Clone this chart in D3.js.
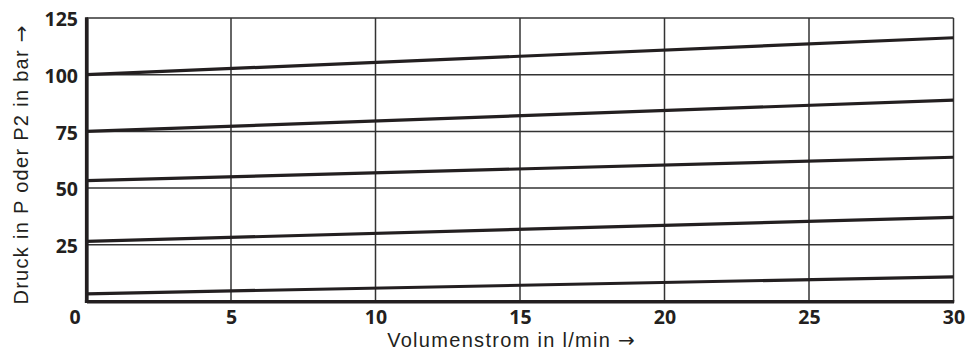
<!DOCTYPE html>
<html>
<head>
<meta charset="utf-8">
<script src="https://cdn.jsdelivr.net/npm/d3@7/dist/d3.min.js"></script>
<style>
  html, body { margin: 0; padding: 0; background: #fff; }
  svg { display: block; }
  .tick text { font-family: "Open Sans", "Liberation Sans", sans-serif; font-weight: 700; font-size: 19.5px; fill: #231f20; }
  .title { font-family: "Liberation Sans", Arial, sans-serif; font-size: 20px; letter-spacing: 1.3px; fill: #231f20; }
  .arrow { font-family: "DejaVu Sans", sans-serif; letter-spacing: 0; }
</style>
</head>
<body>
<svg id="chart" width="969" height="358"></svg>
<script>
// Flow rate (l/min) at which each pressure curve is sampled
const flowRate = [0, 30];
// Pressure curves in bar, one per setting
const curve1 = [3.4, 10.9];
const curve2 = [26.5, 37.1];
const curve3 = [53.3, 63.6];
const curve4 = [75, 88.8];
const curve5 = [100, 116.3];
const curves = [curve1, curve2, curve3, curve4, curve5];

const xTicks = [0, 5, 10, 15, 20, 25, 30];
const yTicks = [25, 50, 75, 100, 125];

const xTitle = "Volumenstrom in l/min";
const yTitle = "Druck in P oder P2 in bar";
const arrow = "\u2192";

const svg = d3.select("#chart");
const plotLeft = 86.5, plotRight = 953.5, plotTop = 18, plotBottom = 301.5;

const x = d3.scaleLinear().domain([0, 30]).range([plotLeft, plotRight]);
const y = d3.scaleLinear().domain([0, 125]).range([plotBottom, plotTop]);

const ink = "#231f20";

// grid
const grid = svg.append("g");
grid.selectAll("line.v").data(xTicks.filter(d => d > 0))
  .join("line")
  .attr("x1", d => x(d)).attr("x2", d => x(d))
  .attr("y1", y(125)).attr("y2", y(0))
  .attr("stroke", "#333").attr("stroke-width", 1.5);
grid.selectAll("line.h").data(yTicks)
  .join("line")
  .attr("x1", x(0)).attr("x2", x(30))
  .attr("y1", d => y(d)).attr("y2", d => y(d))
  .attr("stroke", "#333").attr("stroke-width", 1.5);

// pressure curves
const line = d3.line().x((d, i) => x(flowRate[i])).y(d => y(d));
svg.append("g").selectAll("path").data(curves)
  .join("path")
  .attr("d", d => line(d))
  .attr("fill", "none")
  .attr("stroke", ink)
  .attr("stroke-width", 3.2);

// axes
const xAxis = d3.axisBottom(x).tickValues(xTicks).tickSize(0).tickPadding(9);
const gx = svg.append("g").attr("transform", `translate(0,${plotBottom})`).call(xAxis);
gx.select(".domain").attr("stroke", ink).attr("stroke-width", 3.2);
gx.selectAll(".tick text").filter(d => d === 0).attr("dx", -12);

const yAxis = d3.axisLeft(y).tickValues(yTicks).tickSize(0).tickPadding(8.5);
const gy = svg.append("g").attr("transform", `translate(${plotLeft},0)`).call(yAxis);
gy.select(".domain").attr("stroke", ink).attr("stroke-width", 3.2);
gy.selectAll(".tick text").attr("dy", "0.4em");

// thick left and bottom frame
svg.append("line").attr("x1", plotLeft).attr("x2", plotLeft).attr("y1", plotTop - 0.75).attr("y2", plotBottom + 1.6)
  .attr("stroke", ink).attr("stroke-width", 3.2);
svg.append("line").attr("x1", plotLeft - 1.6).attr("x2", plotRight + 0.75).attr("y1", plotBottom).attr("y2", plotBottom)
  .attr("stroke", ink).attr("stroke-width", 3.2);

// axis titles
const xt = svg.append("text").attr("class", "title")
  .attr("x", 511).attr("y", 347)
  .attr("text-anchor", "middle");
xt.append("tspan").text(xTitle + " ");
xt.append("tspan").attr("class", "arrow").text(arrow);

const yt = svg.append("text").attr("class", "title")
  .attr("transform", "translate(28,165) rotate(-90)")
  .attr("text-anchor", "middle");
yt.append("tspan").text(yTitle + " ");
yt.append("tspan").attr("class", "arrow").text(arrow);
</script>
</body>
</html>
